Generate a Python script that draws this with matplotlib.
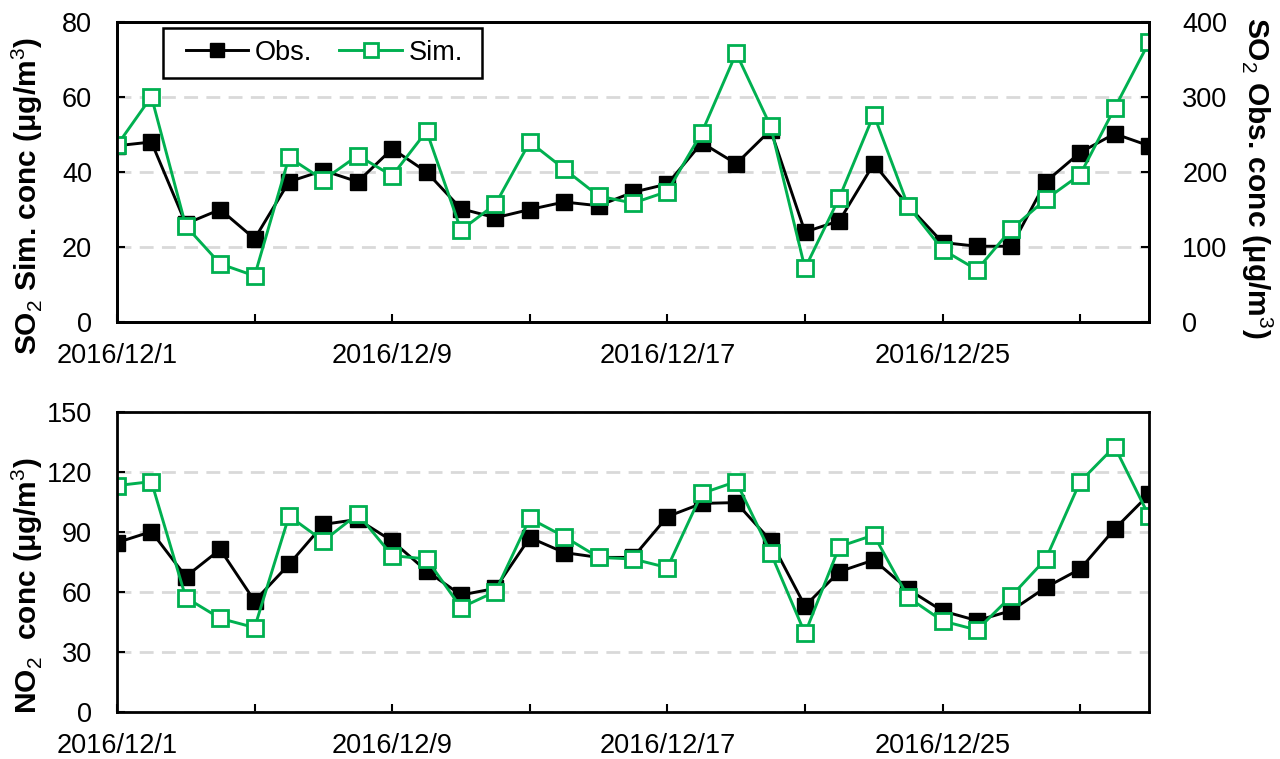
import numpy as np
import pandas as pd
import matplotlib
matplotlib.use('Agg')
import matplotlib.pyplot as plt
from matplotlib.patches import Rectangle

plt.rcParams['font.family'] = ['Liberation Sans', 'DejaVu Sans']
plt.rcParams['mathtext.fontset'] = 'custom'
plt.rcParams['mathtext.rm'] = 'Liberation Sans'
plt.rcParams['mathtext.bf'] = 'Liberation Sans:bold'

dates = pd.date_range('2016-12-01', '2016-12-31', freq='D')

so2_obs = [235, 240, 131, 150, 111, 187, 202, 187, 231, 200, 151, 139, 150, 160, 155,
           173, 184, 239, 211, 256, 120, 135, 211, 155, 106, 101, 101, 187, 226, 251, 235]
so2_sim = [47.1, 60.1, 25.6, 15.5, 12.3, 43.9, 37.9, 44.4, 39.0, 50.9, 24.5, 31.4, 48.0, 40.8, 33.6,
           31.7, 34.8, 50.5, 71.7, 52.2, 14.3, 33.2, 55.3, 30.9, 19.3, 13.9, 24.8, 32.7, 39.3, 57.0, 74.6]
no2_obs = [84.7, 90.2, 67.7, 81.3, 55.5, 73.8, 93.8, 96.3, 85.5, 70.5, 58.5, 61.8, 87.2, 79.7, 77.3,
           77.3, 97.7, 104.3, 104.7, 85.7, 53.0, 70.2, 76.0, 61.3, 50.5, 45.7, 50.7, 62.3, 71.5, 91.5, 108.8]
no2_sim = [113.2, 115.2, 57.2, 46.8, 42.2, 98.0, 85.5, 99.0, 78.2, 76.5, 52.2, 60.2, 96.8, 87.7, 77.3,
           76.5, 72.2, 109.3, 115.2, 79.7, 39.3, 82.7, 88.5, 57.3, 45.5, 41.0, 58.0, 76.5, 115.2, 132.7, 98.0]

tick_dates = dates[::4]
tick_labels = ['{}/{}/{}'.format(d.year, d.month, d.day) if i % 2 == 0 else ''
               for i, d in enumerate(tick_dates)]

green = '#00b050'
fs = 19.5      # tick labels / legend
fs_lab = 21.5  # axis titles
obs_style = dict(color='black', marker='s', markersize=12, linewidth=2.1, label='Obs.')
sim_style = dict(color=green, marker='s', markersize=12, markerfacecolor='white',
                 markeredgewidth=2, linewidth=2.1, label='Sim.')

fig = plt.figure(figsize=(12.8, 7.59), dpi=100)
ax1 = fig.add_axes([117/1280, 1 - 322/759, 1032/1280, 300/759])
ax3 = fig.add_axes([117/1280, 1 - 712/759, 1032/1280, 300/759])


def style_axes(ax):
    for s in ax.spines.values():
        s.set_linewidth(2)
        s.set_color('black')
    ax.set_xlim(dates[0], dates[-1])
    ax.set_xticks(tick_dates)
    ax.set_xticklabels(tick_labels)
    ax.tick_params(axis='x', direction='in', length=6, width=1.5, pad=15, labelsize=fs)
    ax.tick_params(axis='y', direction='in', length=6, width=1.5, pad=18, labelsize=fs)


# SO2 panel: sim on the left axis, obs on the right axis
ax2 = ax1.twinx()
ax2.plot(dates, so2_obs, **obs_style)
ax2.set_ylim(0, 400)
ax2.set_yticks([0, 100, 200, 300, 400])
ax2.grid(axis='y', color='#d9d9d9', linestyle=(0, (5, 3)), linewidth=2)
ax2.set_axisbelow(True)
ax1.set_zorder(ax2.get_zorder() + 1)
ax1.patch.set_visible(False)

ax1.plot(dates, so2_sim, **sim_style)
ax1.set_ylim(0, 80)
ax1.set_yticks([0, 20, 40, 60, 80])
style_axes(ax1)
for s in ax2.spines.values():
    s.set_linewidth(2)
ax2.tick_params(axis='y', direction='in', length=6, width=1.5, pad=24, labelsize=fs)

ax1.set_ylabel('SO$_2$ Sim. conc (μg/m$^3$)', fontsize=fs_lab, fontweight='bold')
ax1.yaxis.set_label_coords(-0.07, 0.42)
ax2.set_ylabel('SO$_2$ Obs. conc (μg/m$^3$)', fontsize=fs_lab, fontweight='bold',
               rotation=270, va='bottom')
ax2.yaxis.set_label_coords(1.087, 0.48)

# legend with a box drawn to the reference size
ax1.add_patch(Rectangle((0.0446, 0.813), 0.309, 0.167, transform=ax1.transAxes,
                        facecolor='white', edgecolor='black', linewidth=1.8, zorder=5))
h1, l1 = ax2.get_legend_handles_labels()
h2, l2 = ax1.get_legend_handles_labels()
leg = ax1.legend(h1 + h2, l1 + l2, ncol=2, loc='center', bbox_to_anchor=(0.201, 0.897),
                 fontsize=fs, frameon=False, handlelength=2.3, markerscale=0.8,
                 columnspacing=1.0, handletextpad=0.25, borderpad=0, borderaxespad=0)
leg.set_zorder(6)

# NO2 panel
ax3.plot(dates, no2_obs, **obs_style)
ax3.plot(dates, no2_sim, **sim_style)
ax3.set_ylim(0, 150)
ax3.set_yticks([0, 30, 60, 90, 120, 150])
ax3.grid(axis='y', color='#d9d9d9', linestyle=(0, (5, 3)), linewidth=2)
ax3.set_axisbelow(True)
style_axes(ax3)
ax3.set_ylabel('NO$_2$  conc (μg/m$^3$)', fontsize=fs_lab, fontweight='bold')
ax3.yaxis.set_label_coords(-0.07, 0.42)

fig.savefig('out.png', dpi=100)
